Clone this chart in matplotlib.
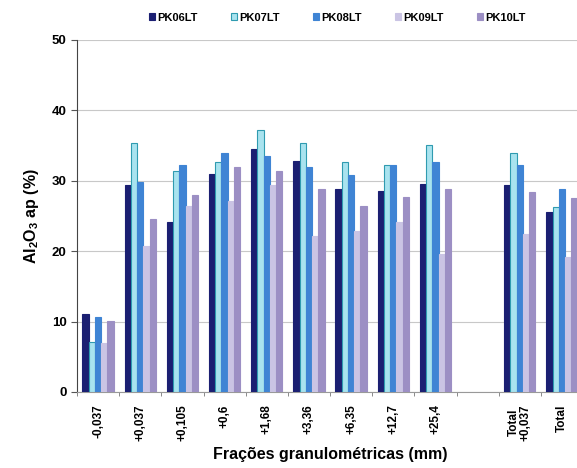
import matplotlib.pyplot as plt
import numpy as np

plt.rcParams['font.family'] = ['Liberation Sans', 'DejaVu Sans']
plt.rcParams['mathtext.fontset'] = 'custom'
plt.rcParams['mathtext.bf'] = 'Liberation Sans:bold'
plt.rcParams['mathtext.rm'] = 'Liberation Sans:bold'

# Data
categories = ['-0,037', '+0,037', '+0,105', '+0,6', '+1,68', '+3,36', '+6,35',
              '+12,7', '+25,4', '', 'Total\n+0,037', 'Total']
series = ['PK06LT', 'PK07LT', 'PK08LT', 'PK09LT', 'PK10LT']
pk06 = [11.1, 29.4, 24.1, 31.0, 34.5, 32.8, 28.8, 28.5, 29.5, np.nan, 29.4, 25.6]
pk07 = [7.1, 35.4, 31.4, 32.6, 37.2, 35.4, 32.6, 32.2, 35.1, np.nan, 33.9, 26.3]
pk08 = [10.7, 29.9, 32.2, 34.0, 33.5, 32.0, 30.8, 32.2, 32.6, np.nan, 32.3, 28.9]
pk09 = [7.0, 20.8, 26.4, 27.2, 29.4, 22.1, 22.9, 24.1, 19.6, np.nan, 22.5, 19.2]
pk10 = [10.1, 24.6, 28.0, 31.9, 31.4, 28.8, 26.4, 27.7, 28.9, np.nan, 28.4, 27.6]
values = [pk06, pk07, pk08, pk09, pk10]

colors = ['#1b1f72', '#a9e3ef', '#3f84d4', '#cac4e4', '#9c8fc4']
edges = ['#1b1f72', '#2f9bb0', '#3f84d4', '#cac4e4', '#9c8fc4']

fig = plt.figure(figsize=(5.77, 4.68), dpi=100)
ax = fig.add_axes([77 / 577, 76 / 468, 506 / 577, 352 / 468])

x = np.arange(len(categories))
w = 0.148
for i, (name, vals) in enumerate(zip(series, values)):
    ax.bar(x + (i - 2) * w, vals, width=w, color=colors[i], edgecolor=edges[i],
           linewidth=0.8, label=name, zorder=3)

ax.set_xlim(-0.5, len(categories) - 0.5)
ax.set_ylim(0, 50)
ax.set_yticks(range(0, 51, 10))
ax.yaxis.grid(True, color='#c8c8c8', linewidth=0.8, zorder=0)
ax.set_axisbelow(True)

ax.set_xticks(x)
ax.set_xticklabels(categories, rotation=90, fontsize=8.5, fontweight='bold',
                   linespacing=0.95)
ax.set_xticks(np.arange(-0.5, len(categories), 1), minor=True)
ax.tick_params(axis='x', which='major', length=0, pad=9)
ax.tick_params(axis='x', which='minor', length=3, color='#777777')
ax.tick_params(axis='y', labelsize=9.5, length=4, color='#555555')
for lbl in ax.get_yticklabels():
    lbl.set_fontweight('bold')

for s in ['top', 'right']:
    ax.spines[s].set_visible(False)
ax.spines['left'].set_color('#444444')
ax.spines['bottom'].set_color('#999999')

ax.set_ylabel('Al$_\\mathbf{2}$O$_\\mathbf{3}$ ap (%)', fontsize=11.5,
              fontweight='bold', labelpad=8)
ax.set_xlabel('Frações granulométricas (mm)', fontsize=11.5, fontweight='bold',
              labelpad=4)

fig.legend(loc='center', bbox_to_anchor=(0.585, 0.962), ncol=5, frameon=False,
           prop={'weight': 'bold', 'size': 8},
           handlelength=0.5, handleheight=0.6, handletextpad=0.25,
           columnspacing=3.0)

fig.savefig('out.png', dpi=100)
